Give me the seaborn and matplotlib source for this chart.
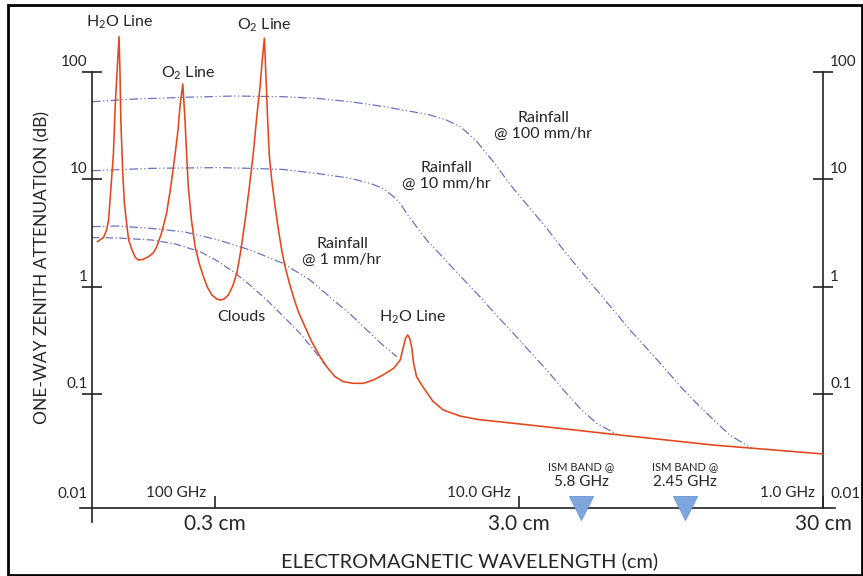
import seaborn as sns
import matplotlib.pyplot as plt
from matplotlib.patches import Rectangle
from matplotlib.ticker import NullLocator

# gaseous absorption (oxygen + water vapour lines), wavelength in cm vs one-way dB
gas_cm = [0.123, 0.129, 0.132, 0.134, 0.136, 0.139, 0.141, 0.143, 0.145, 0.146,
          0.147, 0.149, 0.151, 0.154, 0.156, 0.160, 0.164, 0.168, 0.174, 0.181,
          0.188, 0.193, 0.200, 0.208, 0.215, 0.222, 0.227, 0.230, 0.235, 0.239,
          0.242, 0.245, 0.251, 0.258, 0.266, 0.275, 0.283, 0.293, 0.304, 0.312,
          0.321, 0.332, 0.343, 0.354, 0.365, 0.377, 0.388, 0.401, 0.412, 0.422,
          0.429, 0.436, 0.442, 0.447, 0.453, 0.461, 0.473, 0.485, 0.497, 0.510,
          0.527, 0.543, 0.564, 0.593, 0.624, 0.665, 0.699, 0.744, 0.793, 0.855,
          0.922, 0.995, 1.07, 1.16, 1.22, 1.25, 1.27, 1.29, 1.31, 1.33,
          1.35, 1.38, 1.45, 1.56, 1.69, 1.92, 2.20, 3.26, 6.45, 13.1,
          30.0]
gas_db = [2.61, 2.87, 3.36, 4.16, 7.42, 17.5, 51.1, 104, 212, 104,
          35.5, 12.2, 5.99, 3.61, 2.71, 2.19, 1.87, 1.76, 1.79, 1.89,
          2.06, 2.35, 3.13, 4.84, 8.81, 17.5, 29.9, 47.2, 76.8, 35.5,
          16.8, 8.50, 4.16, 2.35, 1.65, 1.23, 0.989, 0.834, 0.765, 0.749,
          0.765, 0.834, 1.01, 1.34, 2.19, 4.16, 7.92, 17.5, 39.5, 72.5,
          128, 205, 80.0, 35.0, 16.0, 9.81, 5.53, 3.36, 2.19, 1.53,
          1.07, 0.804, 0.582, 0.422, 0.306, 0.222, 0.179, 0.145, 0.130, 0.1255,
          0.1255, 0.1347, 0.150, 0.173, 0.207, 0.275, 0.330, 0.354, 0.330, 0.275,
          0.193, 0.1446, 0.1159, 0.0859, 0.0708, 0.0622, 0.0578, 0.0513, 0.0414, 0.0334,
          0.0276]

rain100_cm = [0.118, 0.164, 0.239, 0.349, 0.503, 0.648, 0.834, 1.05, 1.34, 1.53,
              1.73, 1.92, 2.04, 2.18, 2.32, 2.47, 2.66, 2.87, 3.26, 3.70,
              4.20, 4.76, 5.40, 6.13, 6.95, 7.89, 8.95, 10.2, 11.5, 13.1,
              14.8, 17.5]
rain100_db = [52.6, 55.7, 57.8, 59.4, 58.5, 56.5, 52.6, 47.9, 42.4, 39.5,
              35.5, 30.8, 26.7, 22.3, 18.0, 14.5, 10.9, 8.21, 5.35, 3.48,
              2.19, 1.42, 0.928, 0.604, 0.394, 0.266, 0.179, 0.1167, 0.0818, 0.0571,
              0.0414, 0.0311]

rain10_cm = [0.118, 0.186, 0.308, 0.391, 0.503, 0.648, 0.834, 0.970, 1.07, 1.16,
             1.22, 1.28, 1.38, 1.49, 1.67, 1.87, 2.23, 2.53, 2.87, 3.26,
             3.70, 4.20, 4.76, 5.40, 6.36]
rain10_db = [11.97, 12.6, 12.8, 12.6, 12.3, 11.3, 10.2, 9.14, 8.21, 6.86,
             5.95, 4.80, 3.61, 2.71, 1.92, 1.36, 0.804, 0.539, 0.367, 0.247,
             0.167, 0.1088, 0.0734, 0.0532, 0.0414]

rain1_cm = [0.118, 0.144, 0.186, 0.239, 0.308, 0.391, 0.503, 0.616, 0.735, 0.834,
            0.947, 1.06, 1.19]
rain1_db = [3.61, 3.66, 3.47, 3.22, 2.71, 2.19, 1.64, 1.15, 0.749, 0.555,
            0.394, 0.291, 0.222]

clouds_cm = [0.118, 0.144, 0.186, 0.222, 0.268, 0.302, 0.345, 0.391, 0.444, 0.502,
             0.571, 0.630, 0.699]
clouds_db = [2.86, 2.83, 2.71, 2.49, 2.11, 1.76, 1.37, 1.03, 0.749, 0.531,
             0.367, 0.262, 0.179]

ism_cm = [4.8, 10.55]
ism_labels = ['5.8 GHz', '2.45 GHz']

atten_ticks = [0.01, 0.1, 1, 10, 100]
atten_labels = ['0.01', '0.1', '1', '10', '100']
wave_ticks = [0.3, 3.0, 30]
wave_labels = ['0.3 cm', '3.0 cm', '30 cm']
freq_labels = ['100 GHz', '10.0 GHz', '1.0 GHz']

sns.set_theme(style='white')
plt.rcParams['font.family'] = ['Lato', 'DejaVu Sans']
plt.rcParams['mathtext.default'] = 'regular'

fig = plt.figure(figsize=(8.63, 5.76), dpi=100)
ax = fig.add_axes([80 / 863, 54 / 576, 760 / 863, 502 / 576])
ax.set_xscale('log')
ax.set_yscale('log')
ax.set_xlim(0.1079, 34.1)
ax.set_ylim(0.00642, 303)

left_x = 0.118
floor = 0.00866

red = '#E4461A'
blue = '#6B73BF'
line_kw = dict(estimator=None, sort=False, ax=ax, legend=False)
sns.lineplot(x=gas_cm, y=gas_db, color=red, lw=1.15, zorder=3, **line_kw)
rain_style = (0, (7, 2, 1, 2, 1, 2))
for cm, db in [(rain100_cm, rain100_db), (rain10_cm, rain10_db), (rain1_cm, rain1_db)]:
    sns.lineplot(x=cm, y=db, color=blue, lw=0.9, linestyle=rain_style, **line_kw)
sns.lineplot(x=clouds_cm, y=clouds_db, color=blue, lw=0.9,
             linestyle=(0, (6, 2, 1, 2)), **line_kw)

# ISM band markers sitting on the axis
sns.scatterplot(x=ism_cm, y=[floor] * len(ism_cm), marker='v', s=300,
                color='#7FA7DE', edgecolor='#6A95D4', linewidth=0.6,
                ax=ax, legend=False, zorder=5, clip_on=False)
for cm, lab in zip(ism_cm, ism_labels):
    ax.annotate('ISM BAND @', xy=(cm, floor), xytext=(0, 29.5), textcoords='offset points',
                ha='center', va='center', fontsize=8)
    ax.annotate(lab, xy=(cm, floor), xytext=(0, 18.5), textcoords='offset points',
                ha='center', va='center', fontsize=11)

# spines as the drawn axes
ax.spines['top'].set_visible(False)
ax.spines['left'].set_position(('data', left_x))
ax.spines['left'].set_bounds(0.00642, 100)
ax.spines['right'].set_position(('data', 30))
ax.spines['right'].set_bounds(floor, 100)
ax.spines['bottom'].set_position(('data', floor))
ax.spines['bottom'].set_bounds(0.1079, 32.9)
for s in ['left', 'right', 'bottom']:
    ax.spines[s].set_linewidth(1.2)
    ax.spines[s].set_color('#222222')

ax.set_yticks(atten_ticks[1:])
ax.yaxis.set_minor_locator(NullLocator())
ax.xaxis.set_minor_locator(NullLocator())
ax.tick_params(axis='y', direction='inout', length=14.4, width=1.2, color='#222222',
               left=True, right=True, labelleft=False, labelright=False)
ax.set_xticks(wave_ticks, labels=wave_labels)
ax.tick_params(axis='x', direction='in', length=8.6, width=1.2, color='#222222',
               bottom=True, labelsize=15, pad=4)

for val, lab in zip(atten_ticks, atten_labels):
    ax.annotate(lab, xy=(left_x, val), xytext=(-3, 2 if val > 0.01 else 0.5),
                textcoords='offset points', ha='right', va='bottom', fontsize=11)
    ax.annotate(lab, xy=(30, val), xytext=(5, 2 if val > 0.01 else 0.5),
                textcoords='offset points', ha='left', va='bottom', fontsize=11)

for cm, lab in zip(wave_ticks, freq_labels):
    ax.annotate(lab, xy=(cm, floor), xytext=(-6, 11), textcoords='offset points',
                ha='right', va='center', fontsize=11)

# curve labels
txt = dict(ha='center', va='center', fontsize=11.5)
ax.text(0.146, 290, 'H$_2$O Line', **txt)
ax.text(0.246, 97.3, 'O$_2$ Line', **txt)
ax.text(0.435, 272, 'O$_2$ Line', **txt)
ax.text(3.60, 31.2, 'Rainfall\n@ 100 mm/hr', linespacing=1.1, **txt)
ax.text(1.73, 10.7, 'Rainfall\n@ 10 mm/hr', linespacing=1.1, **txt)
ax.text(0.785, 2.10, 'Rainfall\n@ 1 mm/hr', linespacing=1.1, **txt)
ax.text(0.365, 0.520, 'Clouds', **txt)
ax.text(1.34, 0.520, 'H$_2$O Line', **txt)

fig.text(470 / 863, 1 - 561 / 576, 'ELECTROMAGNETIC WAVELENGTH (cm)',
         ha='center', va='center', fontsize=14.4)
fig.text(42 / 863, 1 - 268 / 576, 'ONE-WAY ZENITH ATTENUATION (dB)',
         ha='center', va='center', rotation=90, fontsize=12.5)

fig.patches.append(Rectangle((8 / 863, 1 / 576), 854 / 863, 570 / 576, fill=False,
                             lw=2, edgecolor='black', transform=fig.transFigure))

fig.savefig('out.png', dpi=100)
